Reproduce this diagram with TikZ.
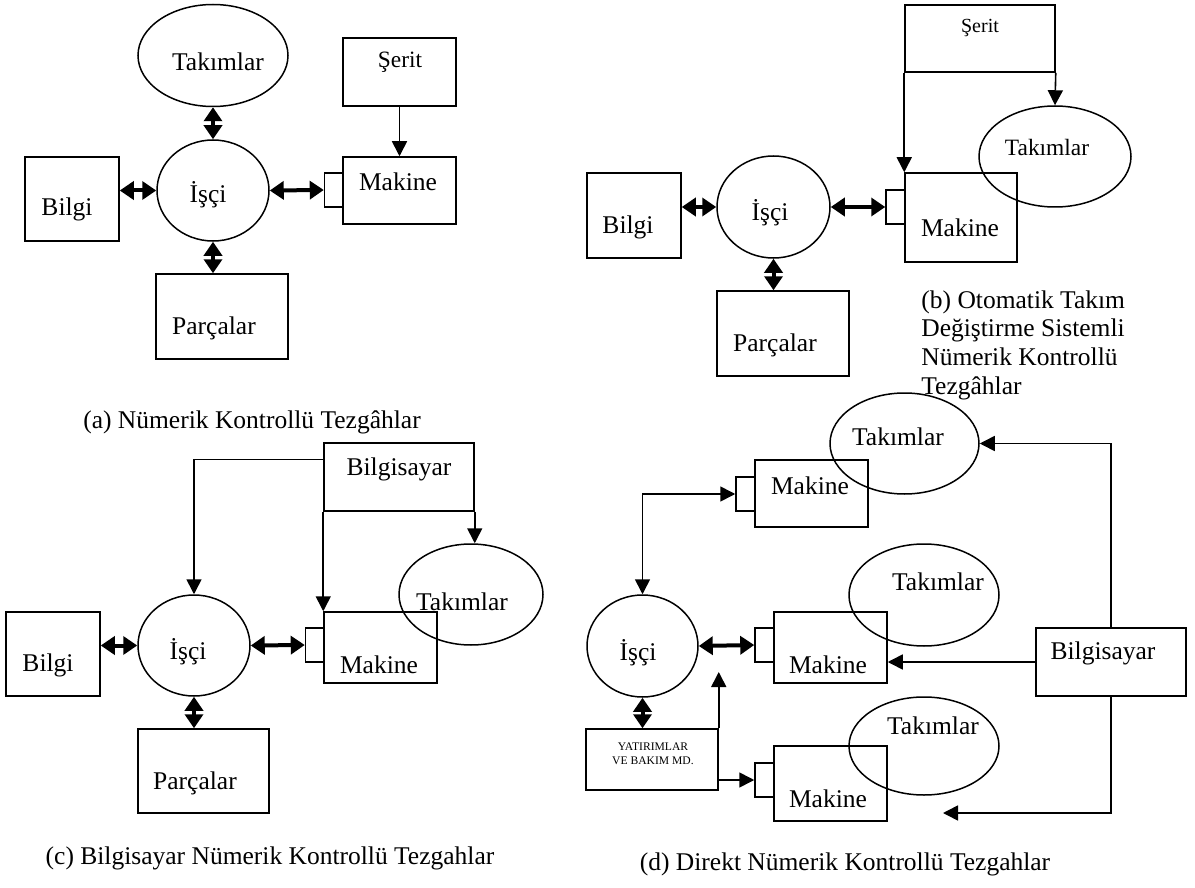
\documentclass[tikz,border=0pt]{standalone}
\usepackage{fontspec}
\setmainfont{Liberation Serif}
\usepackage{tikz}
\usetikzlibrary{arrows.meta,calc,positioning,shapes.geometric}
\tikzset{%
	kutu/.style    = {draw, rectangle, line width=0.75pt, inner sep=0pt},
	elips/.style   = {draw, ellipse, line width=0.75pt, inner sep=0pt},
	kare/.style    = {draw, rectangle, line width=0.75pt, inner sep=0pt, minimum width=9.5pt, minimum height=17pt},
	yazi/.style    = {inner sep=0pt, font=\fontsize{12.75}{14.4}\selectfont},
	ok/.style      = {line width=0.8pt, -{Triangle[length=7.5pt,width=7.5pt]}},
	ikiok/.style   = {line width=0.8pt, {Triangle[length=7.5pt,width=7.5pt]}-{Triangle[length=7.5pt,width=7.5pt]}},
	kalinok/.style = {line width=2pt, {Triangle[length=7pt,width=9pt]}-{Triangle[length=7pt,width=9pt]}},
}
\begin{document}
\begin{tikzpicture}[x=0.5pt,y=-0.5pt]
	\useasboundingbox (0,0) rectangle (1195,888);
	% (a)
	\node[elips, minimum width=75pt, minimum height=51pt] (takA) at (213,55.5) {};
	\node[kutu, minimum width=56.5pt, minimum height=34pt] (serA) at (399.5,72) {};
	\node[kutu, minimum width=56.5pt, minimum height=33.5pt] (makA) at (399.5,190.5) {};
	\node[kare] (kareA) at (334,190) {};
	\node[elips, minimum width=56pt, minimum height=50.5pt] (isA) at (213,190.5) {};
	\node[kutu, minimum width=47pt, minimum height=42pt] (bilA) at (72,199) {};
	\node[kutu, minimum width=66pt, minimum height=42.5pt] (parA) at (222,316.5) {};
	\node[yazi] (tTakA) at (218,62) {Takımlar};
	\node[yazi, font=\fontsize{11.7}{13}\selectfont] (tSerA) at (400,62) {Şerit};
	\node[yazi] (tMakA) at (398,182) {Makine};
	\node[yazi] (tIsA) at (208,195) {İşçi};
	\node[yazi] (tBilA) at (67,209) {Bilgi};
	\node[yazi] (tParA) at (214,328) {Parçalar};
	\draw[kalinok] (takA.south) -- (isA.north);
	\draw[kalinok] (isA.west -| bilA.east) -- (isA.west);
	\draw[kalinok] (isA.east) -- (kareA.west);
	\draw[kalinok] (isA.south) -- (isA.south |- parA.north);
	\draw[ok] (serA.south) -- (makA.north);
	\node[yazi] (capA) at (252,422) {(a) Nümerik Kontrollü Tezgâhlar};
	% (b)
	\node[kutu, minimum width=75pt, minimum height=33.5pt] (serB) at (980,38.5) {};
	\node[elips, minimum width=76pt, minimum height=50.5pt] (takB) at (1055,156.5) {};
	\node[kutu, minimum width=56pt, minimum height=44.5pt] (makB) at (961,217.5) {};
	\node[kare] (kareB) at (895.5,207) {};
	\node[elips, minimum width=56.5pt, minimum height=51pt] (isB) at (773.5,207) {};
	\node[kutu, minimum width=47pt, minimum height=42.5pt] (bilB) at (634,215.5) {};
	\node[kutu, minimum width=66pt, minimum height=42.5pt] (parB) at (783,333.5) {};
	\node[yazi, font=\fontsize{10}{11}\selectfont] (tSerB) at (980,28) {Şerit};
	\node[yazi, font=\fontsize{11.7}{13}\selectfont] (tTakB) at (1047,147) {Takımlar};
	\node[yazi] (tMakB) at (960,228) {Makine};
	\node[yazi] (tIsB) at (770,213) {İşçi};
	\node[yazi] (tBilB) at (628,227) {Bilgi};
	\node[yazi] (tParB) at (775,345) {Parçalar};
	\draw[ok] (serB.south west) -- (makB.north west);
	\draw[ok] (serB.south east) -- (takB.north);
	\draw[kalinok] (isB.west -| bilB.east) -- (isB.west);
	\draw[kalinok] (isB.east) -- (kareB.west);
	\draw[kalinok] (isB.south) -- (isB.south |- parB.north);
	\node[yazi, anchor=north west, align=left] (capB) at (921,290) {(b) Otomatik Takım\\ Değiştirme Sistemli\\ Nümerik Kontrollü\\ Tezgâhlar};
	% (c)
	\node[kutu, minimum width=75pt, minimum height=34pt] (bsyC) at (399,477) {};
	\node[elips, minimum width=72pt, minimum height=50.5pt] (takC) at (471,594.5) {};
	\node[kutu, minimum width=56.5pt, minimum height=35.5pt] (makC) at (380.5,647.5) {};
	\node[kare] (kareC) at (315,645) {};
	\node[elips, minimum width=56pt, minimum height=50.5pt] (isC) at (194,645.5) {};
	\node[kutu, minimum width=47pt, minimum height=42pt] (bilC) at (53,654) {};
	\node[kutu, minimum width=65.5pt, minimum height=42pt] (parC) at (203.5,771) {};
	\node[yazi] (tBsyC) at (399,469) {Bilgisayar};
	\node[yazi] (tTakC) at (462,602) {Takımlar};
	\node[yazi] (tMakC) at (379,665) {Makine};
	\node[yazi] (tIsC) at (188,652) {İşçi};
	\node[yazi] (tBilC) at (48,665) {Bilgi};
	\node[yazi] (tParC) at (195,783) {Parçalar};
	\draw[ok] ($(bsyC.north west)!0.25!(bsyC.south west)$) -| (isC.north);
	\draw[ok] (bsyC.south west) -- (makC.north west);
	\draw[ok] (bsyC.south east) -- (bsyC.south east |- takC.north);
	\draw[kalinok] (isC.west -| bilC.east) -- (isC.west);
	\draw[kalinok] (isC.east) -- (kareC.west);
	\draw[kalinok] (isC.south) -- (isC.south |- parC.north);
	\node[yazi] (capC) at (270,858) {(c) Bilgisayar Nümerik Kontrollü Tezgahlar};
	% (d)
	\node[elips, minimum width=74.5pt, minimum height=50.5pt] (takD1) at (904.5,443.5) {};
	\node[kutu, minimum width=56.5pt, minimum height=33.5pt] (makD1) at (811.5,493.5) {};
	\node[kare] (kareD1) at (745.5,494) {};
	\node[elips, minimum width=55.5pt, minimum height=51pt] (isD) at (642.5,646) {};
	\node[elips, minimum width=75pt, minimum height=51pt] (takD2) at (924,595) {};
	\node[kutu, minimum width=56.5pt, minimum height=35.5pt] (makD2) at (830.5,647.5) {};
	\node[kare] (kareD2) at (764.5,645) {};
	\node[kutu, minimum width=75pt, minimum height=34pt] (bsyD) at (1111,662) {};
	\node[kutu, minimum width=66pt, minimum height=30.5pt] (yatD) at (652,759.5) {};
	\node[kare] (kareD3) at (764.5,780) {};
	\node[kutu, minimum width=56.5pt, minimum height=37.5pt] (makD3) at (830.5,783.5) {};
	\node[elips, minimum width=75pt, minimum height=49pt] (takD3) at (924,746) {};
	\coordinate (yukD) at (717,672);
	\coordinate (ucD) at (943,813);
	\node[yazi] (tTakD1) at (898,437) {Takımlar};
	\node[yazi] (tMakD1) at (810,486) {Makine};
	\node[yazi] (tIsD) at (638,653) {İşçi};
	\node[yazi] (tTakD2) at (938,582) {Takımlar};
	\node[yazi] (tMakD2) at (828,665) {Makine};
	\node[yazi] (tBsyD) at (1103,653) {Bilgisayar};
	\node[yazi, font=\fontsize{5.8}{7.2}\selectfont, align=center] (tYatD) at (653,754) {YATIRIMLAR\\ VE BAKIM MD.};
	\node[yazi] (tTakD3) at (933,726) {Takımlar};
	\node[yazi] (tMakD3) at (828,799) {Makine};
	\draw[ikiok] (isD.north) |- (kareD1.west);
	\draw[kalinok] (isD.east) -- (kareD2.west);
	\draw[kalinok] (isD.south) -- (isD.south |- yatD.north);
	\draw[ok] (yatD.north east) -- (yatD.north east |- yukD);
	\draw[ok] (kareD3.west -| yatD.east) -- (kareD3.west);
	\draw[ok] (bsyD.north) |- (takD1.east);
	\draw[ok] (bsyD.west) -- (bsyD.west -| makD2.east);
	\draw[ok] (bsyD.south) |- (ucD);
	\node[yazi] (capD) at (845,864) {(d) Direkt Nümerik Kontrollü Tezgahlar};
\end{tikzpicture}
\end{document}
